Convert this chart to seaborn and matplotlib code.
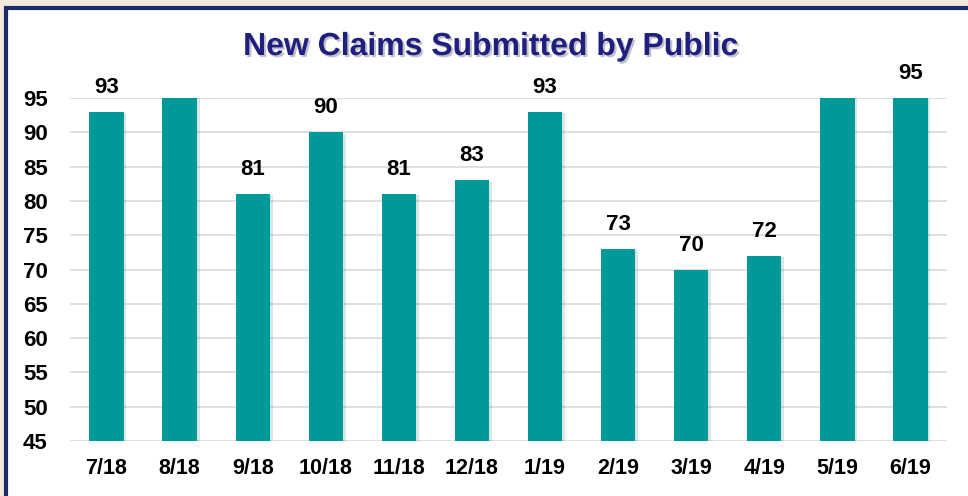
import matplotlib
matplotlib.use("Agg")
import matplotlib.pyplot as plt
import matplotlib.patheffects as pe
from matplotlib.patches import Rectangle
import pandas as pd
import seaborn as sns

# data (8/18 and 5/19 run past the top of the axis)
months = ["7/18", "8/18", "9/18", "10/18", "11/18", "12/18",
          "1/19", "2/19", "3/19", "4/19", "5/19", "6/19"]
claims = [93, 104, 81, 90, 81, 83, 93, 73, 70, 72, 102, 95]
y_ticks = [45, 50, 55, 60, 65, 70, 75, 80, 85, 90, 95]

teal = "#009999"
navy = "#1f1f80"

sns.set_theme(style="white")
plt.rcParams["font.family"] = ["Liberation Sans", "DejaVu Sans"]

df = pd.DataFrame({"month": months, "claims": claims})

fig = plt.figure(figsize=(9.68, 4.96), dpi=100)
fig.patch.set_facecolor("#f3ead9")
# white panel with navy frame, kept behind the axes
fig.patches.append(Rectangle((6 / 968, -0.1), 1.1, 1 - 8 / 496 + 0.1,
                             transform=fig.transFigure, facecolor="white",
                             edgecolor="#1c2c6b", linewidth=3, zorder=-10))

ax = fig.add_axes([70 / 968, 1 - 441 / 496, 877 / 968, 343 / 496])
ax.set_facecolor("none")

sns.barplot(data=df, x="month", y="claims", color=teal, saturation=1,
            width=0.47, linewidth=0, edgecolor="none", ax=ax, zorder=3)
for bar in ax.patches:
    bar.set_path_effects([pe.SimplePatchShadow(offset=(2, -1), alpha=0.15, rho=0.6),
                          pe.Normal()])

ax.set_ylim(45, 95)
ax.set_yticks(y_ticks)
ax.grid(axis="y", color="#d9d9d9", linewidth=1.2, zorder=0)
ax.set_axisbelow(True)
for s in ax.spines.values():
    s.set_visible(False)

ax.set_xlabel("")
ax.set_ylabel("")
ax.tick_params(axis="y", length=0, pad=16, labelsize=16)
ax.tick_params(axis="x", length=0, pad=12, labelsize=15.5)
for lab in ax.get_xticklabels() + ax.get_yticklabels():
    lab.set_fontweight("bold")
    lab.set_color("black")

for i, v in enumerate(claims):
    if v <= 95:
        ax.annotate(str(v), (i, v), xytext=(0, 10), textcoords="offset points",
                    ha="center", va="bottom", fontsize=16, fontweight="bold",
                    color="black", annotation_clip=False)

fig.text(491 / 968, 1 - 47 / 496, "New Claims Submitted by Public",
         ha="center", va="center", fontsize=23, fontweight="bold", color=navy,
         path_effects=[pe.SimplePatchShadow(offset=(1.5, -1.5), alpha=0.25),
                       pe.Normal()])

fig.savefig("out.png", dpi=100, facecolor=fig.get_facecolor())
